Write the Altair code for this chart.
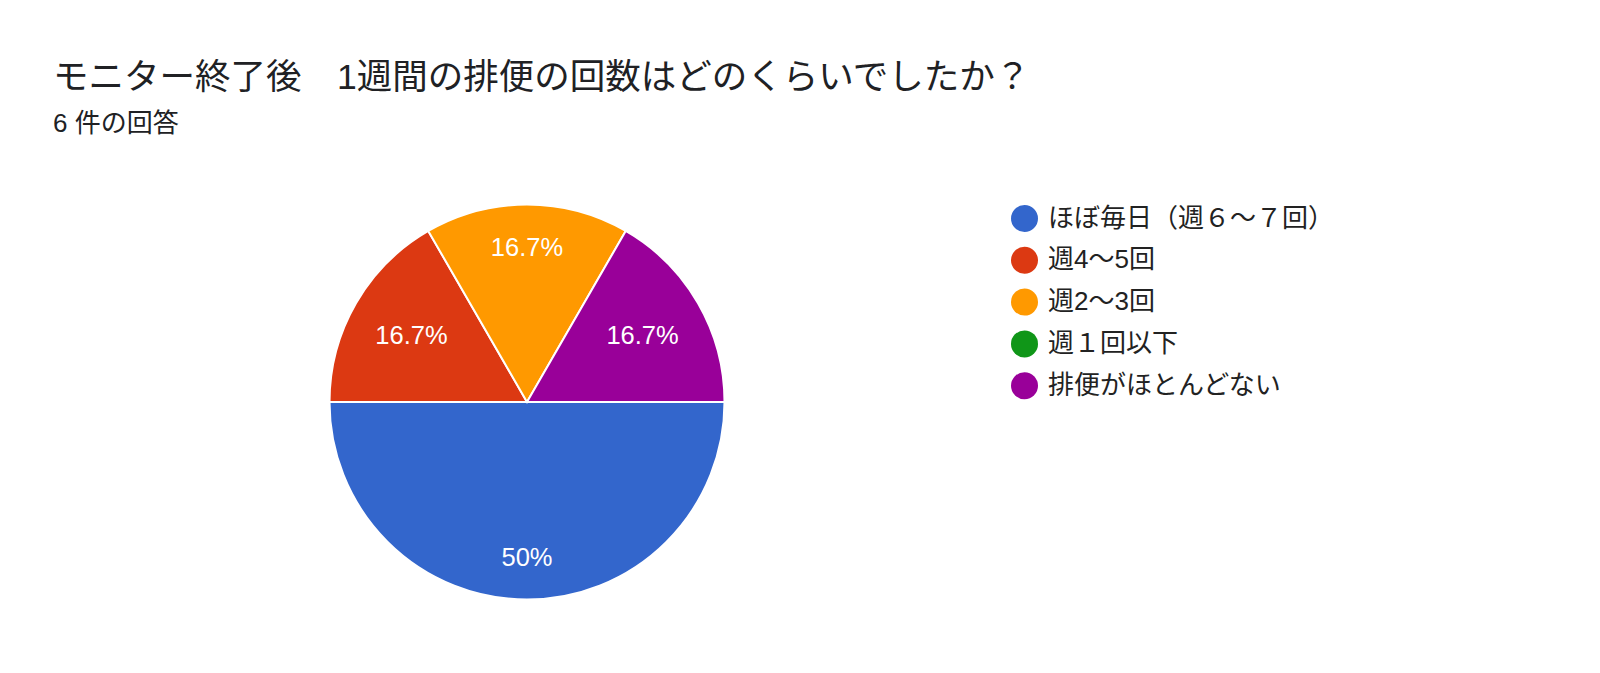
import math
import altair as alt
import pandas as pd

# ---- data ----
categories = ["ほぼ毎日（週６～７回）", "週4～5回", "週2～3回", "週１回以下", "排便がほとんどない"]
counts = [3, 1, 1, 0, 1]
labels = ["50%", "16.7%", "16.7%", "0%", "16.7%"]
colors = ["#3366cc", "#dc3912", "#ff9900", "#109618", "#990099"]

title_text = "モニター終了後　1週間の排便の回数はどのくらいでしたか？"
subtitle_text = "6 件の回答"

df = pd.DataFrame({
    "category": categories,
    "count": counts,
    "label": labels,
    "order": list(range(len(categories))),
})

FONT = "Liberation Sans, Arial, 'Noto Sans CJK JP', sans-serif"
CX, CY, R = 519, 394, 197.5
TOTAL = sum(counts)
START = math.pi / 2  # first slice starts at 3 o'clock, clockwise

color_scale = alt.Scale(domain=categories, range=colors)
theta_scale = alt.Scale(range=[START, START + 2 * math.pi])

base = alt.Chart(df).transform_filter("datum.count > 0")

pie = base.mark_arc(radius=R, stroke="white", strokeWidth=2).encode(
    theta=alt.Theta("count:Q", stack=True, scale=theta_scale),
    color=alt.Color(
        "category:N",
        scale=color_scale,
        sort=categories,
        legend=alt.Legend(
            title=None,
            orient="none",
            legendX=1003,
            legendY=197,
            symbolType="circle",
            symbolSize=729,
            symbolStrokeWidth=0,
            labelFont=FONT,
            labelFontSize=26,
            labelColor="#222222",
            labelOffset=10,
            labelLimit=500,
            rowPadding=14.8,
            padding=0,
        ),
    ),
    order=alt.Order("order:Q"),
    x=alt.value(CX),
    y=alt.value(CY),
)

text = (
    base.transform_window(cum="sum(count)", sort=[alt.SortField("order")],
                          frame=[None, 0])
    .transform_calculate(
        mid=f"((datum.cum - datum.count / 2) / {TOTAL}) * 2 * PI + {START}",
    )
    .transform_calculate(r="132 + 23 * pow(cos(datum.mid), 4)")
    .mark_text(font=FONT, fontSize=25.5, color="white", baseline="middle",
               align="center", dy=1)
    .encode(
        theta=alt.Theta("mid:Q", scale=None),
        radius=alt.Radius("r:Q", scale=None),
        text="label:N",
        x=alt.value(CX),
        y=alt.value(CY),
    )
)

title = alt.Chart(pd.DataFrame({"t": [title_text]})).mark_text(
    font=FONT, fontSize=35.5, color="#202124", align="left", baseline="middle"
).encode(text="t:N", x=alt.value(45), y=alt.value(70))

subtitle = alt.Chart(pd.DataFrame({"t": [subtitle_text]})).mark_text(
    font=FONT, fontSize=26, color="#202124", align="left", baseline="middle"
).encode(text="t:N", x=alt.value(45), y=alt.value(116))

chart = (
    alt.layer(pie, text, title, subtitle)
    .properties(width=1580, height=650, padding=0, background="white")
    .configure_view(strokeWidth=0)
)

chart.save("out.html", embed_options={"renderer": "svg", "actions": False})
